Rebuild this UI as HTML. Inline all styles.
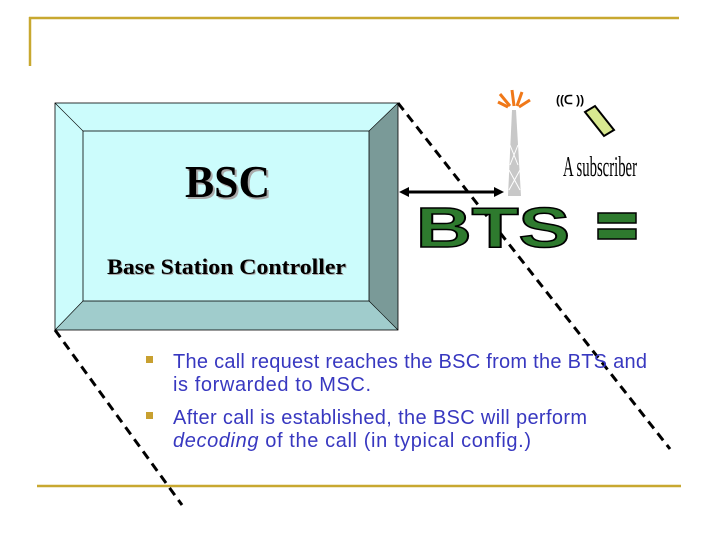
<!DOCTYPE html>
<html><head><meta charset="utf-8"><style>
html,body{margin:0;padding:0;background:#fff;width:720px;height:540px;overflow:hidden}
svg{display:block}
</style></head><body>
<svg width="720" height="540" viewBox="0 0 720 540" xmlns="http://www.w3.org/2000/svg">
<line x1="29" y1="18" x2="679" y2="18" stroke="#c8a830" stroke-width="2.5"/>
<line x1="30" y1="17" x2="30" y2="66" stroke="#c8a830" stroke-width="2.5"/>
<line x1="37" y1="486" x2="681" y2="486" stroke="#c8a830" stroke-width="2.5"/>
<polygon points="55,103 398,103 369,131 83,131" fill="#ccfcfc"/>
<polygon points="55,103 83,131 83,301 55,330" fill="#ccfcfc"/>
<polygon points="398,103 398,330 369,301 369,131" fill="#7a9a98"/>
<polygon points="55,330 398,330 369,301 83,301" fill="#a0cccc"/>
<rect x="83" y="131" width="286" height="170" fill="#ccfcfc" stroke="#000" stroke-width="0.8"/>
<rect x="55" y="103" width="343" height="227" fill="none" stroke="#000" stroke-width="0.8"/>
<line x1="55" y1="103" x2="83" y2="131" stroke="#000" stroke-width="0.6"/>
<line x1="398" y1="103" x2="369" y2="131" stroke="#000" stroke-width="0.6"/>
<line x1="55" y1="330" x2="83" y2="301" stroke="#000" stroke-width="0.6"/>
<line x1="398" y1="330" x2="369" y2="301" stroke="#000" stroke-width="0.6"/>
<text x="187" y="199" font-family="Liberation Serif,serif" font-weight="bold" font-size="45" fill="#aaa" textLength="85" lengthAdjust="spacingAndGlyphs">BSC</text>
<text x="185" y="197" font-family="Liberation Serif,serif" font-weight="bold" font-size="45" fill="#000" textLength="85" lengthAdjust="spacingAndGlyphs">BSC</text>
<text x="108" y="275" font-family="Liberation Serif,serif" font-weight="bold" font-size="22" fill="#aaa" textLength="239" lengthAdjust="spacingAndGlyphs">Base Station Controller</text>
<text x="107" y="274" font-family="Liberation Serif,serif" font-weight="bold" font-size="22" fill="#000" textLength="239" lengthAdjust="spacingAndGlyphs">Base Station Controller</text>
<line x1="398" y1="103" x2="670" y2="449" stroke="#000" stroke-width="3" stroke-dasharray="9,6"/>
<line x1="55" y1="330" x2="182" y2="505" stroke="#000" stroke-width="3" stroke-dasharray="9,6"/>
<line x1="406" y1="192" x2="497" y2="192" stroke="#000" stroke-width="3"/>
<polygon points="399,192 409,187 409,197" fill="#000"/>
<polygon points="504,192 494,187 494,197" fill="#000"/>
<polygon points="508,196 512,110 516,110 521,196" fill="#c8c8c8"/>
<line x1="509" y1="170" x2="520" y2="190" stroke="#fff" stroke-width="1"/>
<line x1="520" y1="170" x2="509" y2="190" stroke="#fff" stroke-width="1"/>
<line x1="510" y1="145" x2="518" y2="165" stroke="#fff" stroke-width="1"/>
<line x1="518" y1="145" x2="510" y2="165" stroke="#fff" stroke-width="1"/>
<g stroke="#f07818" stroke-width="3">
<line x1="514" y1="106" x2="512" y2="90"/><line x1="510" y1="106" x2="500" y2="94"/>
<line x1="517" y1="106" x2="522" y2="92"/><line x1="519" y1="107" x2="530" y2="100"/>
<line x1="508" y1="107" x2="498" y2="102"/>
</g>
<polygon points="585,112 595,106 614,130 604,136" fill="#d8e890" stroke="#000" stroke-width="2"/>
<text x="556" y="104" font-family="Liberation Sans,sans-serif" font-size="12" font-weight="bold" fill="#000">((ᑕ ))</text>
<text x="563" y="176" font-family="Liberation Serif,serif" font-size="28" fill="#000" textLength="74" lengthAdjust="spacingAndGlyphs">A subscriber</text>
<text x="416" y="247" font-family="Liberation Sans,sans-serif" font-weight="900" font-size="57" fill="#2e7a2e" stroke="#000" stroke-width="1.5" textLength="154" lengthAdjust="spacingAndGlyphs">BTS</text>
<rect x="598" y="213" width="38" height="10" fill="#2e7a2e" stroke="#000" stroke-width="1.5"/>
<rect x="598" y="229" width="38" height="10" fill="#2e7a2e" stroke="#000" stroke-width="1.5"/>
<rect x="146" y="356" width="7" height="7" fill="#c8a030"/>
<rect x="146" y="412" width="7" height="7" fill="#c8a030"/>
<g font-family="Liberation Sans,sans-serif" font-size="20" fill="#3838c0" lengthAdjust="spacingAndGlyphs">
<text x="173" y="368" textLength="474">The call request reaches the BSC from the BTS and</text>
<text x="173" y="391" textLength="198">is forwarded to MSC.</text>
<text x="173" y="424" textLength="414">After call is established, the BSC will perform</text>
<text x="173" y="447" textLength="358"><tspan font-style="italic">decoding</tspan> of the call (in typical config.)</text>
</g>
</svg>
</body></html>
